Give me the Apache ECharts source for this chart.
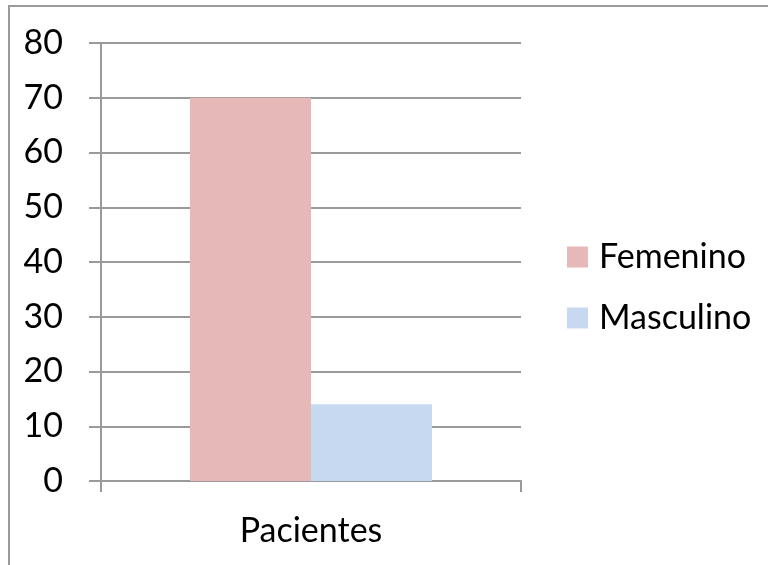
<!DOCTYPE html>
<html>
<head>
<meta charset="utf-8">
<script src="https://cdn.jsdelivr.net/npm/echarts@6/dist/echarts.min.js"></script>
<style>
  html, body { margin: 0; padding: 0; background: #fff; }
  #chart { width: 768px; height: 565px; }
</style>
</head>
<body>
<div id="chart"></div>
<script>
// Patients by sex
const categories = ['Pacientes'];
const femenino = [70];
const masculino = [14];
const seriesNames = ['Femenino', 'Masculino'];
const yTicks = { min: 0, max: 80, step: 10 };

const FONT = 'Lato';
const FONT_SIZE = 34;
const GREY = '#9a9a9a';

const chart = echarts.init(document.getElementById('chart'), null, { renderer: 'canvas' });

chart.setOption({
  animation: false,
  backgroundColor: '#ffffff',
  textStyle: { fontFamily: FONT },
  graphic: [{
    type: 'rect',
    shape: { x: 9, y: 6, width: 900, height: 700 },
    style: { fill: 'none', stroke: GREY, lineWidth: 2 },
    silent: true
  }],
  grid: { left: 101, right: 247, top: 43, bottom: 84, containLabel: false },
  legend: {
    orient: 'vertical',
    left: 567,
    top: 240,
    padding: 0,
    itemWidth: 21,
    itemHeight: 21,
    itemGap: 27,
    icon: 'rect',
    textStyle: { fontFamily: FONT, fontSize: FONT_SIZE, color: '#000', padding: [0, 0, 0, 6] },
    data: seriesNames
  },
  xAxis: {
    type: 'category',
    data: categories,
    axisLine: { lineStyle: { color: GREY, width: 2 } },
    axisTick: { show: true, length: 11, lineStyle: { color: GREY, width: 2 } },
    axisLabel: { fontFamily: FONT, fontSize: FONT_SIZE, color: '#000', margin: 33 }
  },
  yAxis: {
    type: 'value',
    min: yTicks.min,
    max: yTicks.max,
    interval: yTicks.step,
    axisLine: { show: true, lineStyle: { color: GREY, width: 2 } },
    axisTick: { show: true, length: 12, lineStyle: { color: GREY, width: 2 } },
    axisLabel: { fontFamily: FONT, fontSize: FONT_SIZE, color: '#000', margin: 38 },
    splitLine: { show: true, lineStyle: { color: GREY, width: 2 } }
  },
  series: [
    {
      name: seriesNames[0],
      type: 'bar',
      data: femenino,
      barWidth: 121,
      barGap: '0%',
      itemStyle: { color: '#e6b8b7' }
    },
    {
      name: seriesNames[1],
      type: 'bar',
      data: masculino,
      barWidth: 121,
      barGap: '0%',
      itemStyle: { color: '#c6d9f1' }
    }
  ]
});
</script>
</body>
</html>
